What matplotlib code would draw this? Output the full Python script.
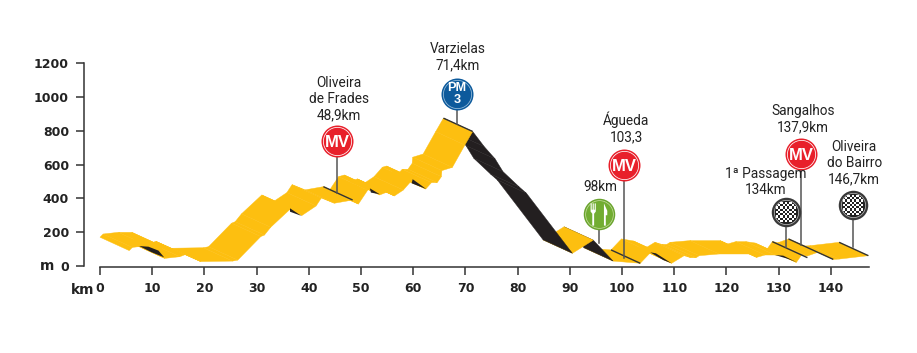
import matplotlib

matplotlib.use("Agg")
import matplotlib.pyplot as plt
from matplotlib.path import Path

# back edge of the ribbon
profile_km = [0, 0.6, 3.5, 6.1, 6.8, 9.7, 10.7, 13.7, 19.8, 20.8, 25.2, 25.9, 27.1, 31, 33.1, 35.8, 36.8, 39.3, 42.8,
              43.9, 45.7, 46.8, 48.0, 49.3, 50.8, 52.5, 54.1, 54.9, 56.8, 57.9, 59.0, 59.8, 59.9, 61.9, 64.3, 65.8,
              68.0, 70.1, 71.6, 74.8, 76.1, 84.9, 88.9, 92.7, 97.9, 99.9, 102.2, 103.9, 106.3, 107.6, 108.6, 109.2,
              113.0, 118.8, 120.2, 121.8, 123.7, 125.5, 127.8, 128.8, 129.9, 131.9, 134.9, 136, 141.6]
profile_m = [170, 189, 199, 199, 124, 134, 146, 105, 108, 114, 253, 262, 308, 420, 378, 434, 481, 450, 469,
             445, 528, 538, 499, 515, 493, 528, 584, 591, 534, 572, 572, 607, 643, 662, 794, 874,
             785, 712, 637, 544, 509, 154, 232, 108, 95, 160, 148, 95, 140, 128, 128, 140,
             150, 150, 130, 144, 144, 136, 100, 144, 138, 160, 118, 120, 140]
# segments seen from behind (long descents) and the stacking that differs from plain yellow
dark_segments = [35, 36, 37, 38, 39, 40, 42]
stacking = {35: 2, 36: 2, 37: 4, 38: 4, 39: 4, 40: 4.2, 41: 4.1, 42: 4}
shift_km = 5.6
shift_m = 79

wedges = [
    ([7.5, 9.3, 11.2, 12.3, 9.9], [118, 114, 91, 51, 81]),
    ([36.4, 38.6, 36.4], [341, 296, 321]),
    ([51.7, 53.6, 51.9], [459, 424, 434]),
    ([59.9, 62.5, 59.7], [513, 455, 489]),
    ([105.4, 106.5, 109.5, 107.9], [81, 75, 16, 35]),
    ([129.3, 130.9, 133.5, 131.5], [65, 61, 22, 45]),
]

# start of edge line, km and m, and how long it runs as a share of the shift
edge_km = [42.8, 65.8, 97.9, 128.8, 131.9, 141.6]
edge_m = [469, 874, 95, 144, 160, 140]
edge_len = [1.0, 1.0, 1.0, 1.2, 1.53, 1.0]

marker_km = [45.4, 68.4, 95.6, 100.4, 131.4, 134.3, 144.3]
marker_m = [739, 1017, 308, 597, 319, 662, 361]
pole_m = [432, 840, 136, 47, 112, 124, 112]
marker_kind = ["mv", "pm", "food", "mv", "finish", "mv", "finish"]
labels = ["Oliveira\nde Frades\n48,9km", "Varzielas\n71,4km", "98km", "Águeda\n103,3",
          "1ª Passagem\n134km", "Sangalhos\n137,9km", "Oliveira\ndo Bairro\n146,7km"]
label_dx = [2, 1, 1, 2, -20, 2, 1]
label_gap = [19, 22, 20, 21, 15, 20, 19]

y_ticks = [0, 200, 400, 600, 800, 1000, 1200]
x_ticks = list(range(0, 150, 10))

YELLOW = "#fdbf10"
BLACK = "#231f20"
AXIS = "#333333"


def checker_path(n=9):
    verts, codes = [], []
    for i in range(n):
        for j in range(n):
            cx, cy = i - (n - 1) / 2, j - (n - 1) / 2
            if (i + j) % 2 or cx * cx + cy * cy > (n / 2) ** 2:
                continue
            verts += [(cx - .5, cy - .5), (cx + .5, cy - .5), (cx + .5, cy + .5), (cx - .5, cy + .5), (cx - .5, cy - .5)]
            codes += [Path.MOVETO, Path.LINETO, Path.LINETO, Path.LINETO, Path.CLOSEPOLY]
    return Path(verts, codes)


FORK = Path([(-2.4, 3), (-2.1, 3), (-2.1, 1.3), (-1.85, 1.3), (-1.85, 3), (-1.55, 3), (-1.55, 1.3), (-1.3, 1.3),
             (-1.3, 3), (-1, 3), (-1, .8), (-1.45, .2), (-1.45, -3), (-1.95, -3), (-1.95, .2), (-2.4, .8), (-2.4, 3)])
KNIFE = Path([(1.2, 3), (2.1, 1), (2.1, -.2), (1.7, -.2), (1.7, -3), (1.2, -3), (1.2, 3)])

fig = plt.figure(figsize=(9.17, 3.53), dpi=100)
ax = fig.add_axes([100 / 917, 87 / 353, 768.9 / 917, 203 / 353])
ax.set_xlim(0, 147.3)
ax.set_ylim(0, 1200)

for i in range(len(profile_km) - 1):
    x0, x1 = profile_km[i], profile_km[i + 1]
    y0, y1 = profile_m[i], profile_m[i + 1]
    color = BLACK if i in dark_segments else YELLOW
    ax.fill([x0, x1, x1 + shift_km, x0 + shift_km], [y0, y1, y1 - shift_m, y0 - shift_m],
            color=color, lw=0.3, zorder=stacking.get(i, 3), clip_on=False)

for xs, ys in wedges:
    ax.fill(xs, ys, color=BLACK, lw=0, zorder=4)

for x, y, k in zip(edge_km, edge_m, edge_len):
    ax.plot([x, x + shift_km * k], [y, y - shift_m * k], color=AXIS, lw=1.0, zorder=5, solid_capstyle="butt")

for x, y, low, kind, text, dx, gap in zip(marker_km, marker_m, pole_m, marker_kind, labels, label_dx, label_gap):
    ax.plot([x, x], [y, low], color="#555555", lw=1.1, zorder=5)
    if kind == "mv":
        rings = [(32, "#e8202b"), (29, "white"), (27.5, "#e8202b")]
    elif kind == "pm":
        rings = [(32, "#0d5a9c"), (29, "#9cc0dc"), (27.5, "#0d5a9c")]
    elif kind == "food":
        rings = [(31.5, "#6aa42e"), (28.5, "#c4dc9c"), (27, "#72ad32")]
    else:
        rings = [(29.5, "#3a3a3a"), (25, "#bbbbbb"), (23.5, "#222222")]
    for d, c in rings:
        ax.scatter([x], [y], s=(d * 0.72) ** 2, color=c, lw=0, zorder=6, clip_on=False)
    if kind == "mv":
        ax.text(x, y, "MV", color="white", fontsize=12, fontweight="bold", family="Liberation Sans",
                ha="center", va="center_baseline", zorder=7)
    elif kind == "pm":
        ax.text(x, y, "PM\n3", color="white", fontsize=9.2, fontweight="bold", family="Liberation Sans",
                ha="center", va="center", linespacing=1.0, zorder=7)
    elif kind == "food":
        ax.scatter([x], [y], s=256, marker=FORK, color="white", lw=0, zorder=7, clip_on=False)
        ax.scatter([x], [y], s=256, marker=KNIFE, color="white", lw=0, zorder=7, clip_on=False)
    else:
        ax.scatter([x], [y], s=210, marker=checker_path(), color="white", lw=0, zorder=7, clip_on=False)
    ax.annotate(text, xy=(x, y), xytext=(dx * 0.72, gap * 0.72), textcoords="offset points", ha="center", va="bottom",
                family="Roboto", fontsize=9.8, color="#222222", linespacing=1.18, annotation_clip=False, zorder=8)

for side in ["top", "right"]:
    ax.spines[side].set_visible(False)
ax.spines["left"].set_position(("outward", 11.5))
ax.spines["bottom"].set_position(("outward", 1))
for side in ["left", "bottom"]:
    ax.spines[side].set_color(AXIS)
    ax.spines[side].set_linewidth(1.1)
ax.set_xticks(x_ticks)
ax.set_yticks(y_ticks)
ax.tick_params(axis="both", length=5.8, width=1.1, color=AXIS, pad=5, labelcolor="#222222")
for t in ax.get_xticklabels() + ax.get_yticklabels():
    t.set_fontweight("bold")
    t.set_fontsize(9)
ax.annotate("m", xy=(0, 0), xytext=(-33, 0), textcoords="offset points", ha="right", va="center",
            fontsize=10, fontweight="bold", color="#222222", annotation_clip=False)
ax.annotate("km", xy=(0, 0), xytext=(-4, -12), textcoords="offset points", ha="right", va="top",
            fontsize=10, fontweight="bold", color="#222222", annotation_clip=False)

fig.savefig("out.png", dpi=100)
